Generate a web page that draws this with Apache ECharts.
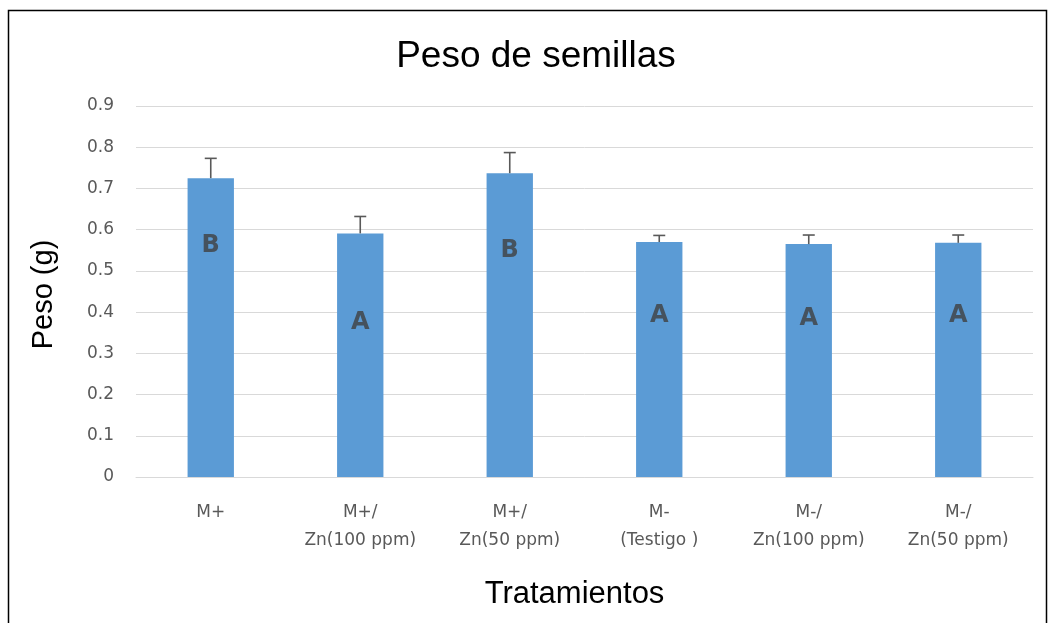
<!DOCTYPE html>
<html>
<head>
<meta charset="utf-8">
<script src="https://cdn.jsdelivr.net/npm/echarts@6/dist/echarts.min.js"></script>
<style>
  html, body { margin: 0; padding: 0; background: #ffffff; }
  #chart { width: 1050px; height: 623px; }
</style>
</head>
<body>
<div id="chart"></div>
<script>
// Treatments and mean seed weight (g)
const categories = ['M+', 'M+/\nZn(100 ppm)', 'M+/\nZn(50 ppm)', 'M-\n(Testigo )', 'M-/\nZn(100 ppm)', 'M-/\nZn(50 ppm)'];
const pesoMedio = [0.725, 0.591, 0.737, 0.570, 0.565, 0.568];
const errorEstandar = [0.048, 0.041, 0.050, 0.016, 0.022, 0.019];
// Significance groups and the height at which each letter sits
const letras = ['B', 'A', 'B', 'A', 'A', 'A'];
const alturaLetra = [0.562, 0.375, 0.550, 0.392, 0.385, 0.390];
const yTicks = [0, 0.1, 0.2, 0.3, 0.4, 0.5, 0.6, 0.7, 0.8, 0.9];

const chart = echarts.init(document.getElementById('chart'), null, { renderer: 'canvas' });

const textGrey = '#595959';
const font = 'Liberation Sans, Arial, sans-serif';
const tickFont = 'DejaVu Sans, sans-serif';

chart.setOption({
  backgroundColor: '#ffffff',
  animation: false,
  graphic: [{
    type: 'rect',
    shape: { x: 8.5, y: 10.5, width: 1038, height: 640 },
    style: { fill: 'none', stroke: '#000000', lineWidth: 1.5 },
    silent: true
  }],
  title: {
    text: 'Peso de semillas',
    left: 531,
    top: 33,
    textAlign: 'center',
    textStyle: { fontFamily: font, fontSize: 37, fontWeight: 'normal', color: '#000000' }
  },
  grid: { left: 136, right: 17, top: 106, bottom: 146 },
  xAxis: {
    type: 'category',
    data: categories,
    name: 'Tratamientos',
    nameLocation: 'middle',
    nameGap: 102,
    nameTextStyle: { fontFamily: font, fontSize: 31, color: '#000000', padding: [0, 20, 0, 0] },
    axisLine: { lineStyle: { color: '#d9d9d9', width: 1 } },
    axisTick: { show: false },
    axisLabel: { fontFamily: tickFont, fontSize: 17, color: textGrey, lineHeight: 28, margin: 22, interval: 0 }
  },
  yAxis: {
    type: 'value',
    min: 0,
    max: 0.9,
    interval: 0.1,
    name: 'Peso (g)',
    nameLocation: 'middle',
    nameRotate: 90,
    nameGap: 78,
    nameTextStyle: { fontFamily: font, fontSize: 29, color: '#000000', padding: [0, 6, 0, 0] },
    axisLine: { show: false },
    axisTick: { show: false },
    splitLine: { lineStyle: { color: '#d9d9d9', width: 1 } },
    axisLabel: {
      fontFamily: tickFont, fontSize: 17, color: textGrey, margin: 22,
      formatter: v => {
        const t = yTicks.find(k => Math.abs(k - v) < 1e-9);
        return t === 0 ? '0' : String(+t.toFixed(1));
      }
    }
  },
  series: [
    {
      type: 'bar',
      data: pesoMedio,
      barWidth: '31%',
      itemStyle: { color: '#5b9bd5' },
      z: 2
    },
    {
      type: 'custom',
      z: 3,
      data: pesoMedio.map((v, i) => [i, v, errorEstandar[i]]),
      renderItem: (params, api) => {
        const x = api.coord([api.value(0), 0])[0];
        const yBase = api.coord([api.value(0), api.value(1)])[1];
        const yTop = api.coord([api.value(0), api.value(1) + api.value(2)])[1];
        const cap = 6;
        const st = { stroke: '#595959', lineWidth: 1.6 };
        return {
          type: 'group',
          children: [
            { type: 'line', shape: { x1: x, y1: yBase, x2: x, y2: yTop }, style: st },
            { type: 'line', shape: { x1: x - cap, y1: yTop, x2: x + cap, y2: yTop }, style: st }
          ]
        };
      }
    },
    {
      type: 'scatter',
      z: 4,
      symbolSize: 0,
      data: alturaLetra.map((h, i) => [i, h]),
      label: {
        show: true,
        position: 'inside',
        formatter: p => letras[p.dataIndex],
        fontFamily: tickFont,
        fontSize: 24,
        fontWeight: 'bold',
        color: '#404040'
      }
    }
  ]
});
</script>
</body>
</html>
